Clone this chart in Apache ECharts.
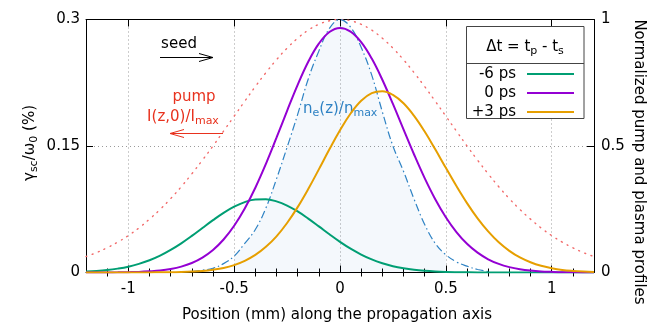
<!DOCTYPE html>
<html><head><meta charset="utf-8">
<script src="https://cdn.jsdelivr.net/npm/echarts@6/dist/echarts.min.js"></script>
<style>html,body{margin:0;padding:0;background:#fff}#c{width:670px;height:327px}</style>
</head><body><div id="c"></div>
<script>
// ---- data (x step 0.05 mm) ----
const xs = [-1.2,-1.15,-1.1,-1.05,-1.0,-0.95,-0.9,-0.85,-0.8,-0.75,-0.7,-0.65,-0.6,-0.55,-0.5,-0.45,-0.4,-0.35,-0.3,-0.25,-0.2,-0.15,-0.1,-0.05,0,
            0.05,0.1,0.15,0.2,0.25,0.3,0.35,0.4,0.45,0.5,0.55,0.6,0.65,0.7,0.75,0.8,0.85,0.9,0.95,1.0,1.05,1.1,1.15,1.2];
const green6 = [0.0011,0.0018,0.0029,0.0046,0.0069,0.0102,0.0145,0.0200,0.0268,0.0346,0.0434,0.0528,0.0621,0.0708,0.0781,0.0835,0.0865,0.0868,0.0843,0.0794,0.0724,0.0639,0.0547,0.0453,0.0363,
                0.0282,0.0213,0.0155,0.0110,0.0075,0.0050,0.0032,0.0020,0.0012,0.0007,0.0004,0.0002,0.0001,0.0001,0,0,0,0,0,0,0,0,0,0];
const purple0 = [0,0,0.0001,0.0002,0.0004,0.0007,0.0014,0.0024,0.0042,0.0070,0.0113,0.0177,0.0267,0.0391,0.0554,0.0759,0.1005,0.1288,0.1598,0.1917,0.2225,0.2499,0.2714,0.2852,0.2900,
                 0.2857,0.2732,0.2537,0.2286,0.1999,0.1697,0.1399,0.1119,0.0869,0.0655,0.0479,0.0340,0.0235,0.0157,0.0102,0.0064,0.0039,0.0023,0.0013,0.0008,0.0004,0.0002,0.0001,0.0001];
const orange3 = [0,0,0,0,0,0,0.0001,0.0002,0.0003,0.0006,0.0011,0.0019,0.0033,0.0054,0.0088,0.0138,0.0208,0.0304,0.0429,0.0587,0.0775,0.0990,0.1223,0.1461,0.1687,
                 0.1885,0.2036,0.2127,0.2149,0.2106,0.2006,0.1857,0.1671,0.1461,0.1241,0.1025,0.0823,0.0642,0.0487,0.0358,0.0257,0.0178,0.0121,0.0079,0.0051,0.0031,0.0019,0.0011,0.0006];
const pump = [0.063,0.0786,0.098,0.120,0.146,0.176,0.211,0.249,0.292,0.339,0.390,0.444,0.500,0.559,0.618,0.677,0.735,0.790,0.841,0.887,0.926,0.958,0.981,0.995,1.0,
              0.995,0.981,0.958,0.926,0.887,0.841,0.790,0.735,0.677,0.618,0.559,0.500,0.444,0.390,0.339,0.292,0.249,0.211,0.176,0.146,0.120,0.098,0.0786,0.063];
const bx = [-0.7,-0.65,-0.6,-0.55,-0.5,-0.45,-0.4,-0.35,-0.3,-0.25,-0.2,-0.15,-0.1,-0.05,0,0.05,0.1,0.15,0.2,0.25,0.3,0.35,0.4,0.45,0.5,0.55,0.6,0.65,0.7];
const plasma = [0.004,0.009,0.017,0.035,0.065,0.115,0.17,0.255,0.37,0.495,0.625,0.765,0.875,0.965,1.0,0.97,0.89,0.78,0.635,0.50,0.40,0.29,0.19,0.115,0.07,0.042,0.025,0.012,0.004];
const plasmaFillRange = [-0.5, 0.5];
const majorX = [-1,-0.5,0,0.5,1];
const minorX = [-1.1,-0.9,-0.8,-0.7,-0.6,-0.4,-0.3,-0.2,-0.1,0.1,0.2,0.3,0.4,0.6,0.7,0.8,0.9,1.1];
const seriesNames = ['-6 ps','0 ps','+3 ps'];

// ---- chart ----
const FONT = 'DejaVu Sans';
const chart = echarts.init(document.getElementById('c'), null, {renderer:'canvas'});
const pair = (x, v) => x.map((xx, i) => [xx, v[i]]);
const fillData = pair(bx, plasma).filter(p => p[0] >= plasmaFillRange[0] - 1e-9 && p[0] <= plasmaFillRange[1] + 1e-9);

const tickLabelStyle = {fontFamily: FONT, fontSize: 15, color: '#000'};
const gridLine = {show: true, lineStyle: {color: '#9a9a9a', width: 1, type: [1, 3]}};
function xAxisDef(pos, vals, len, opts) {
  return Object.assign({
    type: 'value', position: pos, min: -1.2, max: 1.2,
    axisLine: {show: true, onZero: false, lineStyle: {color: '#000', width: 1}},
    axisTick: {show: true, inside: true, length: len, customValues: vals, lineStyle: {color: '#000', width: 1}},
    axisLabel: {show: false},
    splitLine: {show: false}
  }, opts || {});
}

function richOf(color) {
  return {
    a: {fontFamily: FONT, fontSize: 15, lineHeight: 20, fill: color, color: color},
    s: {fontFamily: FONT, fontSize: 11, lineHeight: 12, padding: [8, 0, 0, 0], fill: color, color: color}
  };
}

const SM = 0.4;
const option = {
  animation: false,
  backgroundColor: '#fff',
  grid: {left: 86, right: 76, top: 19.5, bottom: 54.5, containLabel: false},
  xAxis: [
    xAxisDef('bottom', majorX, 7, {
      axisLabel: {show: true, customValues: majorX, margin: 9, formatter: v => String(+v.toFixed(2)), ...tickLabelStyle},
      splitLine: gridLine
    }),
    xAxisDef('bottom', minorX, 4, {axisLine: {show: false}}),
    xAxisDef('top', majorX, 7),
    xAxisDef('top', minorX, 4, {axisLine: {show: false}})
  ],
  yAxis: [
    {type: 'value', position: 'left', min: 0, max: 0.3, interval: 0.15,
     axisLine: {show: true, onZero: false, lineStyle: {color: '#000'}},
     axisTick: {show: true, inside: true, length: 7, lineStyle: {color: '#000'}},
     axisLabel: {margin: 6, formatter: v => String(+v.toFixed(2)), ...tickLabelStyle},
     splitLine: gridLine},
    {type: 'value', position: 'right', min: 0, max: 1, interval: 0.5,
     axisLine: {show: true, onZero: false, lineStyle: {color: '#000'}},
     axisTick: {show: true, inside: true, length: 7, lineStyle: {color: '#000'}},
     axisLabel: {margin: 7, formatter: v => String(+v.toFixed(2)), ...tickLabelStyle},
     splitLine: {show: false}}
  ],
  legend: {
    data: seriesNames, orient: 'vertical', align: 'right', selectedMode: false,
    right: 96, top: 66.5, padding: 0, itemGap: 4, itemWidth: 47, itemHeight: 2, icon: 'rect',
    textStyle: {fontFamily: FONT, fontSize: 15, color: '#000', lineHeight: 14, padding: [0, 6, 0, 0]}
  },
  series: [
    {name: 'plasma fill', type: 'line', yAxisIndex: 1, data: fillData, smooth: SM, symbol: 'none',
     lineStyle: {width: 0, opacity: 0}, areaStyle: {color: 'rgba(30,120,190,0.075)'}, z: 1, silent: true},
    {name: 'pump', type: 'line', yAxisIndex: 1, data: pair(xs, pump), smooth: SM, symbol: 'none',
     lineStyle: {color: '#f26a6a', width: 1.4, type: [1, 5.5], cap: 'round'}},
    {name: 'plasma', type: 'line', yAxisIndex: 1, data: pair(bx, plasma), smooth: SM, symbol: 'none',
     lineStyle: {color: '#2f83c4', width: 1.2, type: [8, 3, 1.5, 3]}},
    {name: seriesNames[0], type: 'line', data: pair(xs, green6), smooth: SM, symbol: 'none',
     color: '#009e73', lineStyle: {color: '#009e73', width: 2}},
    {name: seriesNames[1], type: 'line', data: pair(xs, purple0), smooth: SM, symbol: 'none',
     color: '#9400d3', lineStyle: {color: '#9400d3', width: 2}},
    {name: seriesNames[2], type: 'line', data: pair(xs, orange3), smooth: SM, symbol: 'none',
     color: '#e69f00', lineStyle: {color: '#e69f00', width: 2}}
  ],
  graphic: [
    {type: 'rect', z: 3, shape: {x: 466.5, y: 26.5, width: 117.5, height: 92}, style: {fill: '#fff', stroke: '#444', lineWidth: 1}},
    {type: 'line', z: 3, shape: {x1: 466.5, y1: 63.5, x2: 584, y2: 63.5}, style: {stroke: '#444', lineWidth: 1}},
    {type: 'text', z: 5, x: 525, y: 47, style: {text: '{a|Δt = t}{s|p}{a| - t}{s|s}', rich: richOf('#000'), align: 'center', verticalAlign: 'middle'}},
    {type: 'text', x: 30, y: 143, rotation: Math.PI / 2, style: {text: '{a|γ}{s|sc}{a|/ω}{s|0}{a| (%)}', rich: richOf('#000'), align: 'center', verticalAlign: 'middle'}},
    {type: 'text', x: 639, y: 162, rotation: -Math.PI / 2, style: {text: 'Normalized pump and plasma profiles', font: '15px "DejaVu Sans"', fill: '#000', align: 'center', verticalAlign: 'middle'}},
    {type: 'text', x: 337, y: 315, style: {text: 'Position (mm) along the propagation axis', font: '15px "DejaVu Sans"', fill: '#000', align: 'center', verticalAlign: 'middle'}},
    {type: 'text', x: 179, y: 44, style: {text: 'seed', font: '15px "DejaVu Sans"', fill: '#000', align: 'center', verticalAlign: 'middle'}},
    {type: 'line', shape: {x1: 160, y1: 57.5, x2: 213, y2: 57.5}, style: {stroke: '#000', lineWidth: 1}},
    {type: 'polyline', shape: {points: [[199, 53.5], [213, 57.5], [199, 61.5]]}, style: {stroke: '#000', lineWidth: 1, fill: null}},
    {type: 'text', x: 194, y: 97, style: {text: 'pump', font: '15px "DejaVu Sans"', fill: '#e8321e', align: 'center', verticalAlign: 'middle'}},
    {type: 'text', x: 183, y: 117, style: {text: '{a|I(z,0)/I}{s|max}', rich: richOf('#e8321e'), align: 'center', verticalAlign: 'middle'}},
    {type: 'line', shape: {x1: 223, y1: 133.5, x2: 170, y2: 133.5}, style: {stroke: '#e8321e', lineWidth: 1}},
    {type: 'polyline', shape: {points: [[184, 129.5], [170, 133.5], [184, 137.5]]}, style: {stroke: '#e8321e', lineWidth: 1, fill: null}},
    {type: 'text', x: 303, y: 109, style: {text: '{a|n}{s|e}{a|(z)/n}{s|max}', rich: richOf('#2f83c4'), align: 'left', verticalAlign: 'middle'}}
  ]
};
chart.setOption(option);
</script>
</body></html>
